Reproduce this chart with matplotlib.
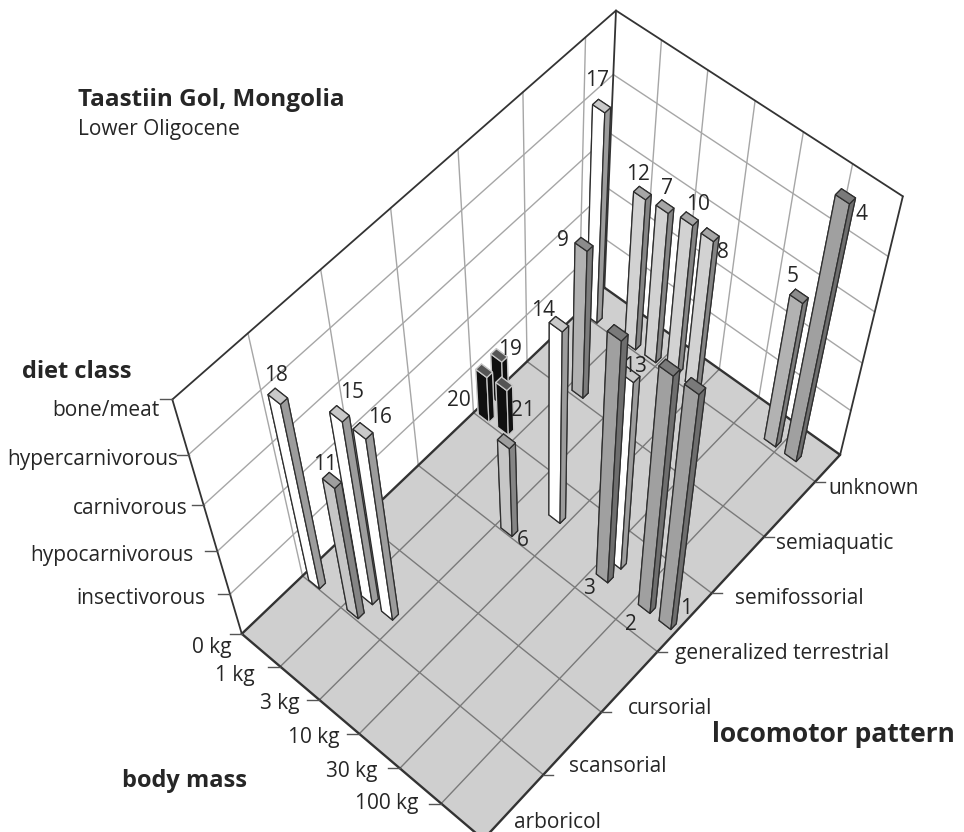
import numpy as np
import matplotlib
matplotlib.use("Agg")
import matplotlib.pyplot as plt
from matplotlib.lines import Line2D
from mpl_toolkits.mplot3d import proj3d
from mpl_toolkits.mplot3d.art3d import Poly3DCollection

plt.rcParams['font.family'] = ['Open Sans', 'DejaVu Sans']

mass_labels = ["0 kg", "1 kg", "3 kg", "10 kg", "30 kg", "100 kg"]
loco_labels = ["arboricol", "scansorial", "cursorial", "generalized terrestrial",
               "semifossorial", "semiaquatic", "unknown"]
diet_labels = ["insectivorous", "hypocarnivorous", "carnivorous", "hypercarnivorous", "bone/meat"]

# one entry per taxon, taxon number = index + 1
taxa = list(range(1, 22))
mass = [5.9, 5.4, 4.4, 5.45, 4.95, 2.4, 1.95, 2.95, 1.4, 2.45, 1.4,
        1.45, 4.4, 2.9, 1.4, 1.9, 0.45, 0.43, 0.36, 0.38, 0.86]
loco = [3.32, 3.32, 3.3, 6.07, 6.07, 3.02, 6.05, 6.08, 5.05, 6.1, 1.03,
        6.03, 3.54, 3.53, 1.27, 1.28, 6.02, 1.01, 4.3, 4.02, 4.04]
diet = [5, 5, 5, 5, 3, 2, 3, 3, 3, 3, 3,
        3, 4, 4, 4, 4, 4, 4, 1, 1, 1]
shade = ["dark", "dark", "dark", "dark", "mid", "pale", "light", "light", "mid", "light", "pale",
         "light", "white", "white", "white", "white", "white", "white", "black", "black", "black"]

# front, side, cap, edge
colors = {"white": ("#ffffff", "#9c9c9c", "#c9c9c9", "#2e2e2e"),
          "light": ("#d2d2d2", "#858585", "#a6a6a6", "#2e2e2e"),
          "pale": ("#c6c6c6", "#858585", "#9e9e9e", "#2e2e2e"),
          "mid": ("#b2b2b2", "#7c7c7c", "#8c8c8c", "#2e2e2e"),
          "dark": ("#a0a0a0", "#6e6e6e", "#7a7a7a", "#2e2e2e"),
          "black": ("#101010", "#101010", "#555555", "#c8c8c8")}

# where the number of each taxon sits, in picture pixels
num_pos = {1: (686, 607), 2: (631, 623), 3: (589, 587), 4: (861, 212), 5: (793, 275), 6: (523, 539),
           7: (667, 186), 8: (723, 251), 9: (563, 238), 10: (698, 203), 11: (325, 462), 12: (638, 173),
           13: (635, 365), 14: (543, 308), 15: (352, 391), 16: (380, 415), 17: (597, 79), 18: (276, 374),
           19: (510, 348), 20: (459, 398), 21: (523, 408)}

W, H = 964, 832
fig = plt.figure(figsize=(W/100, H/100), dpi=100)
ax = fig.add_axes([0.13427, -0.02162, 0.84706, 0.98145], projection="3d")
ax.computed_zorder = False
ax.set_axis_off()
ax.view_init(elev=58.994, azim=-48.934, roll=-0.089)
ax.set_proj_type("persp", focal_length=0.4646)
ax.set_box_aspect((0.004372, 0.007525, 0.005961))
xmax, ymax, zmax = 6, 6.5, 5
ax.set_xlim(0, xmax, view_margin=0)
ax.set_ylim(0, ymax, view_margin=0)
ax.set_zlim(0, zmax, view_margin=0)

# floor and the two walls
floor = [[(0, 0, 0), (xmax, 0, 0), (xmax, ymax, 0), (0, ymax, 0)]]
walls = [[(0, 0, 0), (0, ymax, 0), (0, ymax, zmax), (0, 0, zmax)],
         [(0, ymax, 0), (xmax, ymax, 0), (xmax, ymax, zmax), (0, ymax, zmax)]]
ax.add_collection3d(Poly3DCollection(floor, facecolor="#cfcfcf", edgecolor="none", zorder=1, clip_on=False))
ax.add_collection3d(Poly3DCollection(walls, facecolor="white", edgecolor="none", zorder=1, clip_on=False))

def line(a, b, color, lw, z=2):
    ax.plot(*zip(a, b), color=color, lw=lw, zorder=z, solid_capstyle="round", clip_on=False)

for v in range(1, 6):
    line((v, 0, 0), (v, ymax, 0), "#7a7a7a", 1.0)
    line((v, ymax, 0), (v, ymax, zmax), "#a6a6a6", 1.0)
for v in range(1, 7):
    line((0, v, 0), (xmax, v, 0), "#7a7a7a", 1.0)
    line((0, v, 0), (0, v, zmax), "#a6a6a6", 1.0)
for v in range(1, 5):
    line((0, 0, v), (0, ymax, v), "#a6a6a6", 1.0)
    line((0, ymax, v), (xmax, ymax, v), "#a6a6a6", 1.0)

# frame
for a, b in [((0, 0, 0), (xmax, 0, 0)), ((xmax, 0, 0), (xmax, ymax, 0)),
             ((0, 0, 0), (0, ymax, 0)), ((0, ymax, 0), (xmax, ymax, 0))]:
    line(a, b, "#333333", 1.7, 3)
for a, b in [((0, 0, 0), (0, 0, zmax)), ((0, 0, zmax), (0, ymax, zmax)), ((0, ymax, zmax), (xmax, ymax, zmax)),
             ((xmax, ymax, zmax), (xmax, ymax, 0)), ((0, ymax, 0), (0, ymax, zmax))]:
    line(a, b, "#333333", 1.3, 3)

# bars, far ones first so the near ones cover them
dx, dy = 0.28, 0.1
order = list(np.argsort(0.47*np.array(mass) - 0.87*np.array(loco)))
for rank, i in enumerate(order):
    front, side, cap, edge = colors[shade[i]]
    # bottom, top, -y, +y, -x, +x
    ax.bar3d(mass[i]-dx, loco[i], 0, dx, dy, diet[i], color=[cap, cap, front, side, front, side],
             shade=False, edgecolor=edge, linewidth=0.9, zorder=10+rank)

ax.set_xlim(0, xmax, view_margin=0)
ax.set_ylim(0, ymax, view_margin=0)
ax.set_zlim(0, zmax, view_margin=0)

def to_pixels(x, y, z):
    u, v, _ = proj3d.proj_transform(x, y, z, ax.get_proj())
    return ax.transData.transform((u, v))

def tick(x, y, z, length):
    px, py = to_pixels(x, y, z)
    fig.add_artist(Line2D([px, px+length], [py, py], color="#555555", lw=1.0, transform=None))

def label(x, y, s, size=15, ha="center", weight="normal"):
    fig.text(x/W, 1-(y+2)/H, s, fontsize=size, ha=ha, va="center", fontweight=weight, color="#262626")

for v in range(1, 6):
    tick(0, 0, v, -12)
for v in range(0, 6):
    tick(v, 0, 0, -12)
for v in range(1, 7):
    tick(xmax, v, 0, 10)

for s, (x, y) in zip(diet_labels, [(206, 597), (193, 554), (188, 507), (178, 457), (159, 409)]):
    label(x, y, s, ha="right")
for s, (x, y) in zip(mass_labels, [(232, 645), (255, 673), (300, 702), (340, 735), (377, 770), (418, 802)]):
    label(x, y, s, ha="right")
for s, (x, y) in zip(loco_labels, [(514, 821), (569, 765), (628, 706), (675, 651), (735, 597), (776, 541), (828, 487)]):
    label(x, y, s, ha="left")

for t in taxa:
    if t == 13:
        # 13 sits partly behind bar 3
        x, y = num_pos[t]
        ax.text2D(x/W, 1-(y+2)/H, str(t), transform=fig.transFigure, fontsize=15, ha="center", va="center",
                  color="#262626", zorder=10+order.index(2)-0.5)
    else:
        label(*num_pos[t], str(t))

label(78, 98, "Taastiin Gol, Mongolia", size=17.5, ha="left", weight="bold")
label(78, 127, "Lower Oligocene", ha="left")
label(22, 370, "diet class", size=17, ha="left", weight="bold")
label(122, 779, "body mass", size=17, ha="left", weight="bold")
label(712, 733, "locomotor pattern", size=19, ha="left", weight="bold")

fig.savefig("out.png", dpi=100)
